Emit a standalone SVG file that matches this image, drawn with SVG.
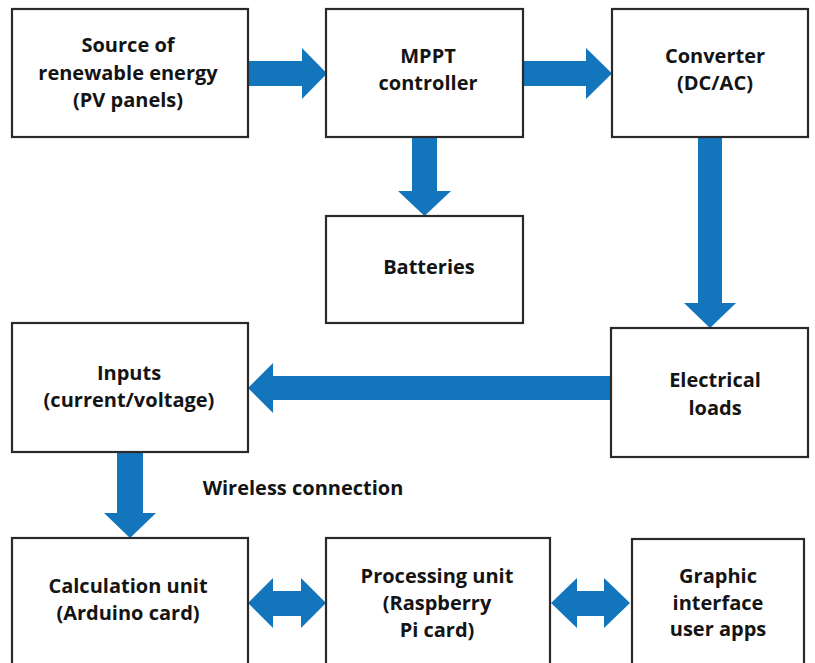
<svg xmlns="http://www.w3.org/2000/svg" width="815" height="663" viewBox="0 0 815 663">
<style>
.box{fill:#fff;stroke:#2a2a2a;stroke-width:2.2}
.arr{fill:#1375bc}
text{font-family:"Open Sans","Noto Sans","Liberation Sans",sans-serif;font-weight:700;font-size:20px;fill:#141414;text-anchor:middle}
</style>
<rect width="815" height="663" fill="#fff"/>
<g id="connectors">
<polygon class="arr" points="248,61 302,61 302,48 327,73.5 302,99 302,86 248,86"/>
<polygon class="arr" points="523,61 586,61 586,48 612,73.5 586,99 586,86 523,86"/>
<polygon class="arr" points="412,137 437,137 437,191 451,191 424.5,216 398,191 412,191"/>
<polygon class="arr" points="698,137 722,137 722,303 736,303 710,328 684,303 698,303"/>
<polygon class="arr" points="611,376 273,376 273,363 248,388 273,413 273,400 611,400"/>
<polygon class="arr" points="117,452 143,452 143,513 156,513 130,538 104,513 117,513"/>
<polygon class="arr" points="248,603 273,578 273,591 301,591 301,578 326,603 301,628 301,616 273,616 273,628"/>
<polygon class="arr" points="551,603 577,578 577,591 604,591 604,578 630,603 604,628 604,616 577,616 577,628"/>
<text x="303" y="495">Wireless connection</text>
</g>
<g id="source">
<rect class="box" x="12" y="9" width="236" height="128"/>
<text x="128" y="52">Source of</text>
<text x="128" y="80">renewable energy</text>
<text x="128" y="107">(PV panels)</text>
</g>
<g id="mppt">
<rect class="box" x="326" y="9" width="197" height="128"/>
<text x="428" y="63">MPPT</text>
<text x="428" y="90">controller</text>
</g>
<g id="converter">
<rect class="box" x="612" y="9" width="196" height="128"/>
<text x="715" y="63">Converter</text>
<text x="715" y="90">(DC/AC)</text>
</g>
<g id="batteries">
<rect class="box" x="326" y="216" width="197" height="107"/>
<text x="429" y="274">Batteries</text>
</g>
<g id="loads">
<rect class="box" x="611" y="328" width="197" height="129"/>
<text x="715" y="387">Electrical</text>
<text x="715" y="415">loads</text>
</g>
<g id="inputs">
<rect class="box" x="12" y="323" width="236" height="129"/>
<text x="129" y="380">Inputs</text>
<text x="129" y="407">(current/voltage)</text>
</g>
<g id="calculation">
<rect class="box" x="12" y="538" width="236" height="140"/>
<text x="128" y="593">Calculation unit</text>
<text x="128" y="620">(Arduino card)</text>
</g>
<g id="processing">
<rect class="box" x="326" y="538" width="224" height="140"/>
<text x="437" y="583">Processing unit</text>
<text x="437" y="610">(Raspberry</text>
<text x="437" y="637">Pi card)</text>
</g>
<g id="graphic">
<rect class="box" x="632" y="539" width="172" height="140"/>
<text x="718" y="583">Graphic</text>
<text x="718" y="610">interface</text>
<text x="718" y="636">user apps</text>
</g>
</svg>
